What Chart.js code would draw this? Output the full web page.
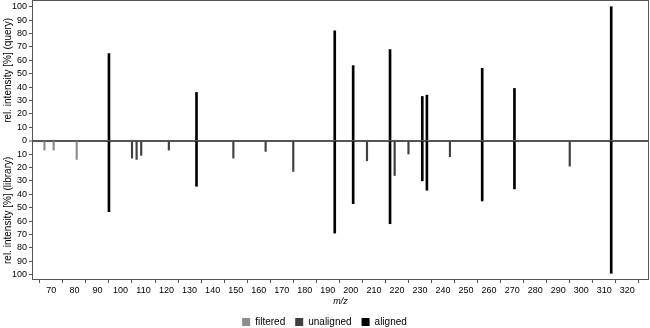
<!DOCTYPE html>
<html>
<head>
<meta charset="utf-8">
<script src="https://cdn.jsdelivr.net/npm/chart.js@4/dist/chart.umd.min.js"></script>
<style>
	html, body { margin: 0; padding: 0; background: #fff; }
	#wrap { width: 650px; height: 328px; }
</style>
</head>
<body>
<div id="wrap"><canvas id="spectrum" width="650" height="328"></canvas></div>
<script>
'use strict';

// Mirror plot: query above zero, library below

var alignedMz = [95, 133, 193, 201, 217, 231, 233, 257, 271, 313];
var queryInt = [65, 36, 82, 56, 68, 33, 34, 54, 39, 100];
var libraryInt = [53, 34, 69, 47, 62, 30, 37, 45, 36, 99];

var unalignedMz = [105, 107, 109, 121, 149, 163, 175, 207, 219, 225, 243, 295];
var unalignedInt = [13, 14, 11, 7, 13, 8, 23, 15, 26, 10, 12, 19];

var filteredMz = [67, 71, 81];
var filteredInt = [7, 7, 14];

var xTicks = [70, 80, 90, 100, 110, 120, 130, 140, 150, 160, 170, 180, 190, 200,
	210, 220, 230, 240, 250, 260, 270, 280, 290, 300, 310, 320];
var yTicks = [-100, -90, -80, -70, -60, -50, -40, -30, -20, -10, 0,
	10, 20, 30, 40, 50, 60, 70, 80, 90, 100];

var font = 'Liberation Sans, Arial, Helvetica, sans-serif';

function points(mz, vals, sign) {
	return mz.map(function (m, i) { return { x: m, y: sign * vals[i] }; });
}

var alignedData = points(alignedMz, queryInt, 1).concat(points(alignedMz, libraryInt, -1));

var framePlugin = {
	id: 'frame',
	afterDraw: function (chart) {
		var ctx = chart.ctx;
		var a = chart.chartArea;
		var zero = chart.scales.y.getPixelForValue(0);
		ctx.save();
		ctx.strokeStyle = '#555';
		ctx.lineWidth = 1;
		ctx.strokeRect(a.left + 0.5, a.top + 0.5, a.width - 1, a.height - 1);
		ctx.restore();
		[['rel. intensity [%] (query)', (a.top + zero) / 2],
		 ['rel. intensity [%] (library)', (zero + a.bottom) / 2]].forEach(function (t) {
			ctx.save();
			ctx.fillStyle = '#000';
			ctx.font = '10px ' + font;
			ctx.textAlign = 'center';
			ctx.textBaseline = 'middle';
			ctx.translate(8, t[1]);
			ctx.rotate(-Math.PI / 2);
			ctx.fillText(t[0], 0, 0);
			ctx.restore();
		});
	}
};

var chart = new Chart(document.getElementById('spectrum'), {
	type: 'bar',
	data: {
		datasets: [{
			label: 'filtered',
			data: points(filteredMz, filteredInt, -1),
			backgroundColor: '#8c8c8c',
			barThickness: 1.5
		}, {
			label: 'unaligned',
			data: points(unalignedMz, unalignedInt, -1),
			backgroundColor: '#404040',
			barThickness: 1.5
		}, {
			label: 'aligned',
			data: alignedData,
			backgroundColor: '#000',
			barThickness: 2
		}]
	},
	options: {
		responsive: false,
		animation: false,
		grouped: false,
		layout: { padding: { top: 0, right: 1, left: 0, bottom: 0 } },
		plugins: {
			tooltip: { enabled: false },
			legend: {
				position: 'bottom',
				maxHeight: 21,
				labels: {
					boxWidth: 8,
					boxHeight: 8,
					padding: 10,
					color: '#000',
					font: { family: font, size: 10 }
				}
			}
		},
		scales: {
			x: {
				type: 'linear',
				min: 61.6,
				max: 329.4,
				offset: false,
				afterBuildTicks: function (s) { s.ticks = xTicks.map(function (v) { return { value: v }; }); },
				afterFit: function (s) { s.height = 27; s.paddingLeft = 0; s.paddingRight = 0; },
				border: { display: false },
				grid: { drawOnChartArea: false, tickLength: 3, tickColor: '#555' },
				ticks: { color: '#000', font: { family: font, size: 9 }, padding: 2, maxRotation: 0, autoSkip: false },
				title: { display: true, text: 'm/z', color: '#000', font: { family: font, size: 9, style: 'italic' }, padding: 0 }
			},
			y: {
				min: -104,
				max: 105,
				afterBuildTicks: function (s) { s.ticks = yTicks.map(function (v) { return { value: v }; }); },
				afterFit: function (s) { s.width = 32; s.paddingTop = 0; s.paddingBottom = 0; },
				border: { display: false },
				grid: {
					color: function (c) { return c.tick && c.tick.value === 0 ? '#555' : 'rgba(0,0,0,0)'; },
					lineWidth: function (c) { return c.tick && c.tick.value === 0 ? 2 : 1; },
					tickColor: '#555',
					tickWidth: 1,
					tickLength: 3
				},
				ticks: {
					color: '#000',
					font: { family: font, size: 9 },
					padding: 2,
					autoSkip: false,
					callback: function (v) { return Math.abs(v); }
				}
			}
		}
	},
	plugins: [framePlugin]
});
</script>
</body>
</html>
